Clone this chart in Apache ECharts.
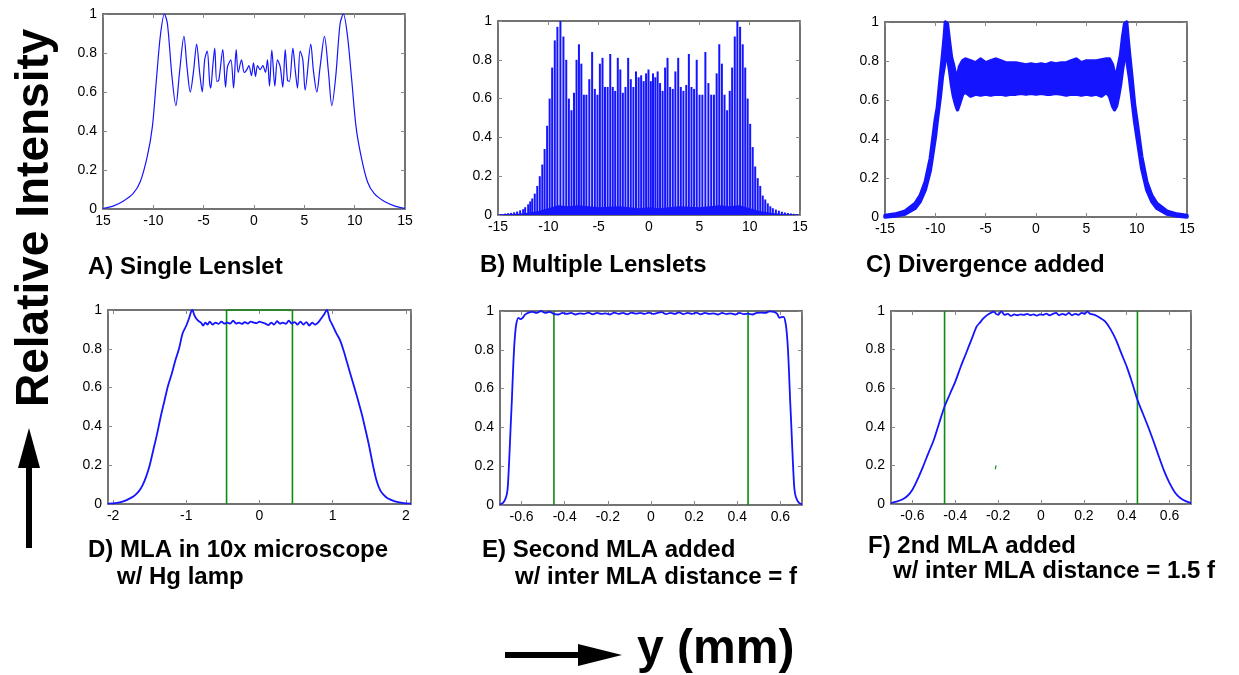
<!DOCTYPE html>
<html>
<head>
<meta charset="utf-8">
<script src="https://cdn.jsdelivr.net/npm/echarts@6/dist/echarts.min.js"></script>
<style>
  html, body { margin: 0; padding: 0; background: #fff; }
  #chart { width: 1239px; height: 675px; }
</style>
</head>
<body>
<div id="chart"></div>
<script>
// A) single lenslet: [y (mm), relative intensity]
const singleLenslet = [
  [-15, 0.003], [-14, 0.015], [-13, 0.04], [-12, 0.08], [-11.3, 0.14], [-10.6, 0.27], [-10.1, 0.42],
  [-9.7, 0.66], [-9.3, 0.89], [-8.9, 1.0], [-8.6, 0.95], [-8.15, 0.68], [-7.76, 0.53], [-7.4, 0.70],
  [-6.96, 0.885], [-6.66, 0.73], [-6.33, 0.60], [-6.0, 0.71], [-5.7, 0.846], [-5.4, 0.70], [-5.14, 0.60],
  [-4.9, 0.765], [-4.65, 0.81], [-4.4, 0.645], [-4.3, 0.62], [-4.1, 0.73], [-3.9, 0.825], [-3.7, 0.655],
  [-3.5, 0.66], [-3.1, 0.817], [-2.83, 0.625], [-2.63, 0.73], [-2.3, 0.765], [-2.03, 0.62], [-1.77, 0.817],
  [-1.57, 0.70], [-1.24, 0.765], [-0.97, 0.70], [-0.71, 0.715], [-0.51, 0.735], [-0.25, 0.684], [-0.05, 0.75],
  [0.15, 0.68], [0.35, 0.735], [0.61, 0.715], [0.88, 0.735], [1.14, 0.70], [1.34, 0.765], [1.54, 0.63],
  [1.77, 0.815], [2.07, 0.63], [2.33, 0.765], [2.6, 0.73], [2.86, 0.625], [3.1, 0.817], [3.33, 0.66],
  [3.52, 0.655], [3.86, 0.825], [4.09, 0.715], [4.32, 0.62], [4.58, 0.81], [4.85, 0.765], [5.08, 0.61],
  [5.64, 0.846], [5.9, 0.71], [6.24, 0.60], [6.57, 0.73], [7.0, 0.885], [7.4, 0.70], [7.73, 0.53],
  [8.12, 0.68], [8.55, 0.95], [8.88, 1.0], [9.28, 0.89], [9.71, 0.66], [10.14, 0.42], [10.64, 0.27],
  [11.27, 0.14], [11.93, 0.08], [12.92, 0.04], [14, 0.015], [15, 0.003]
];

// B) multiple lenslets: spike positions and heights
const multiSpikes = [
  [-14.7, 0.005], [-14.3, 0.007], [-14.0, 0.009], [-13.7, 0.011], [-13.4, 0.014], [-13.1, 0.018],
  [-12.8, 0.024], [-12.5, 0.03], [-12.3, 0.04], [-12.0, 0.055], [-11.8, 0.07], [-11.6, 0.085],
  [-11.35, 0.11], [-11.1, 0.15], [-10.85, 0.2], [-10.6, 0.26], [-10.37, 0.34], [-10.12, 0.46],
  [-9.87, 0.6], [-9.62, 0.76], [-9.36, 0.9], [-9.1, 0.97], [-8.8, 1.0], [-8.5, 0.92], [-8.22, 0.8],
  [-7.96, 0.6], [-7.7, 0.54], [-7.45, 0.63], [-7.2, 0.8], [-6.96, 0.88], [-6.72, 0.78], [-6.47, 0.62],
  [-6.22, 0.62], [-5.93, 0.7], [-5.65, 0.84], [-5.38, 0.65], [-5.12, 0.62], [-4.88, 0.78], [-4.62, 0.81],
  [-4.37, 0.66], [-4.11, 0.66], [-3.85, 0.83], [-3.6, 0.66], [-3.36, 0.64], [-3.1, 0.81], [-2.85, 0.75],
  [-2.6, 0.63], [-2.34, 0.66], [-2.07, 0.81], [-1.81, 0.70], [-1.55, 0.66], [-1.29, 0.74], [-1.03, 0.71],
  [-0.78, 0.72], [-0.53, 0.69], [-0.29, 0.73], [-0.05, 0.75], [0.18, 0.69], [0.4, 0.73], [0.63, 0.71],
  [0.86, 0.74], [1.1, 0.68], [1.35, 0.64], [1.6, 0.76], [1.84, 0.81], [2.1, 0.66], [2.36, 0.65],
  [2.62, 0.74], [2.9, 0.81], [3.16, 0.66], [3.42, 0.64], [3.7, 0.67], [3.96, 0.83], [4.22, 0.66],
  [4.48, 0.65], [4.74, 0.80], [5.02, 0.62], [5.3, 0.62], [5.6, 0.84], [5.9, 0.68], [6.18, 0.62],
  [6.45, 0.62], [6.72, 0.73], [6.98, 0.88], [7.24, 0.78], [7.5, 0.62], [7.76, 0.54], [8.02, 0.64],
  [8.26, 0.76], [8.52, 0.92], [8.78, 1.0], [9.05, 0.97], [9.31, 0.88], [9.56, 0.76], [9.8, 0.6],
  [10.05, 0.47], [10.3, 0.35], [10.55, 0.25], [10.8, 0.19], [11.05, 0.15], [11.3, 0.10], [11.55, 0.08],
  [11.8, 0.06], [12.05, 0.045], [12.3, 0.035], [12.6, 0.028], [12.9, 0.022], [13.2, 0.017], [13.5, 0.013],
  [13.8, 0.01], [14.1, 0.008], [14.4, 0.006], [14.7, 0.005]
];
// B) dense band near the baseline
const multiFloor = [
  [-15, 0.002], [-13, 0.006], [-12, 0.012], [-11, 0.02], [-10, 0.035], [-9, 0.05], [-8, 0.045],
  [-7, 0.05], [-5, 0.04], [-3, 0.045], [-1, 0.035], [0, 0.04], [1, 0.035], [3, 0.045], [5, 0.04],
  [7, 0.05], [8, 0.045], [9, 0.05], [10, 0.035], [11, 0.02], [12, 0.012], [13, 0.006], [15, 0.002]
];

// C) divergence added: band of fast oscillation, upper and lower envelopes
const divX = [-15, -14, -13, -12, -11.5, -11, -10.5, -10, -9.8, -9.5, -9.3, -9.1, -9.0, -8.8, -8.6, -8.4,
  -8.2, -8.0, -7.8, -7.6, -7.3, -7.0, -6.5, -6.0, -5.5, -5.0, -4.5, -4.0, -3.5, -3.0, -2.5, -2.0, -1.5,
  -1.0, -0.5, 0, 0.5, 1.0, 1.5, 2.0, 2.5, 3.0, 3.5, 4.0, 4.5, 5.0, 5.5, 6.0, 6.5, 7.0, 7.3, 7.6, 7.8,
  8.0, 8.2, 8.4, 8.6, 8.8, 9.0, 9.1, 9.3, 9.5, 9.8, 10.0, 10.5, 11, 11.5, 12, 13, 14, 15];
const divUpper = [0.008, 0.015, 0.03, 0.07, 0.11, 0.18, 0.30, 0.50, 0.56, 0.72, 0.82, 0.93, 1.0, 0.99, 0.90, 0.82,
  0.78, 0.73, 0.72, 0.77, 0.80, 0.81, 0.80, 0.79, 0.81, 0.79, 0.80, 0.81, 0.80, 0.79, 0.79, 0.79, 0.785,
  0.78, 0.785, 0.78, 0.785, 0.78, 0.79, 0.785, 0.79, 0.79, 0.80, 0.81, 0.79, 0.80, 0.80, 0.80, 0.805, 0.81, 0.81, 0.78, 0.73,
  0.73, 0.78, 0.83, 0.92, 0.99, 1.0, 0.94, 0.83, 0.73, 0.57, 0.50, 0.31, 0.18, 0.11, 0.07, 0.03, 0.015, 0.008];
const divLower = [0.0, 0.005, 0.015, 0.045, 0.08, 0.14, 0.24, 0.41, 0.50, 0.62, 0.72, 0.78, 0.85, 0.82, 0.76, 0.68,
  0.62, 0.58, 0.55, 0.58, 0.63, 0.64, 0.62, 0.63, 0.625, 0.63, 0.625, 0.63, 0.63, 0.625, 0.63, 0.63, 0.635,
  0.63, 0.635, 0.63, 0.635, 0.63, 0.63, 0.635, 0.63, 0.625, 0.63, 0.63, 0.625, 0.63, 0.625, 0.63, 0.62, 0.64, 0.62, 0.57, 0.55,
  0.57, 0.62, 0.68, 0.76, 0.82, 0.86, 0.78, 0.71, 0.62, 0.49, 0.42, 0.25, 0.14, 0.08, 0.045, 0.015, 0.005, 0.0];

// D) MLA in 10x microscope
const microscope = [
  [-2.07, 0.002], [-1.95, 0.006], [-1.85, 0.015], [-1.75, 0.033], [-1.7, 0.046], [-1.65, 0.065], [-1.6, 0.095],
  [-1.55, 0.14], [-1.5, 0.2], [-1.45, 0.28], [-1.4, 0.36], [-1.35, 0.45], [-1.3, 0.53], [-1.25, 0.61],
  [-1.2, 0.67], [-1.15, 0.74], [-1.1, 0.8], [-1.05, 0.88], [-1.0, 0.92], [-0.96, 0.96], [-0.92, 1.0],
  [-0.88, 0.965], [-0.84, 0.945], [-0.8, 0.935], [-0.77, 0.92], [-0.74, 0.935], [-0.71, 0.925], [-0.68, 0.94],
  [-0.64, 0.925], [-0.6, 0.935], [-0.56, 0.928], [-0.52, 0.94], [-0.48, 0.93], [-0.44, 0.935], [-0.4, 0.93],
  [-0.36, 0.945], [-0.32, 0.93], [-0.28, 0.935], [-0.24, 0.928], [-0.2, 0.938], [-0.16, 0.93], [-0.12, 0.94],
  [-0.08, 0.935], [-0.04, 0.932], [0, 0.94], [0.04, 0.935], [0.08, 0.93], [0.12, 0.922], [0.16, 0.935],
  [0.2, 0.925], [0.24, 0.942], [0.28, 0.93], [0.32, 0.935], [0.36, 0.928], [0.4, 0.945], [0.44, 0.93],
  [0.48, 0.938], [0.52, 0.925], [0.56, 0.94], [0.6, 0.925], [0.64, 0.938], [0.68, 0.92], [0.72, 0.935],
  [0.76, 0.925], [0.8, 0.935], [0.84, 0.955], [0.88, 0.975], [0.92, 1.0], [0.96, 0.95], [1.0, 0.92],
  [1.05, 0.88], [1.1, 0.845], [1.15, 0.79], [1.2, 0.725], [1.25, 0.66], [1.3, 0.596], [1.35, 0.53],
  [1.4, 0.46], [1.45, 0.38], [1.5, 0.295], [1.55, 0.2], [1.6, 0.12], [1.65, 0.07], [1.7, 0.046],
  [1.75, 0.03], [1.85, 0.014], [1.95, 0.006], [2.07, 0.002]
];

// E) second MLA at distance f
const secondF = [
  [-0.7, 0.003], [-0.685, 0.012], [-0.672, 0.04], [-0.665, 0.08], [-0.66, 0.17], [-0.655, 0.29], [-0.65, 0.42],
  [-0.645, 0.54], [-0.64, 0.68], [-0.635, 0.8], [-0.63, 0.88], [-0.625, 0.93], [-0.615, 0.965], [-0.605, 0.958],
  [-0.595, 0.965], [-0.585, 0.98], [-0.57, 0.99], [-0.55, 0.995], [-0.53, 0.99], [-0.51, 1.0], [-0.49, 0.99],
  [-0.47, 0.995], [-0.45, 0.985], [-0.43, 0.982], [-0.41, 0.99], [-0.39, 0.985], [-0.37, 0.99], [-0.35, 0.982],
  [-0.33, 0.988], [-0.31, 0.985], [-0.29, 0.992], [-0.27, 0.983], [-0.25, 0.99], [-0.23, 0.985], [-0.21, 0.988],
  [-0.19, 0.982], [-0.17, 0.992], [-0.15, 0.985], [-0.13, 0.99], [-0.11, 0.983], [-0.09, 0.992], [-0.07, 0.986],
  [-0.05, 0.99], [-0.03, 0.985], [-0.01, 0.992], [0.01, 0.985], [0.03, 0.99], [0.05, 0.994], [0.07, 0.984],
  [0.09, 0.99], [0.11, 0.985], [0.13, 0.993], [0.15, 0.984], [0.17, 0.99], [0.19, 0.985], [0.21, 0.992],
  [0.23, 0.983], [0.25, 0.99], [0.27, 0.985], [0.29, 0.988], [0.31, 0.982], [0.33, 0.99], [0.35, 0.984],
  [0.37, 0.988], [0.39, 0.982], [0.41, 0.99], [0.43, 0.984], [0.45, 0.986], [0.47, 0.982], [0.49, 0.99],
  [0.51, 0.992], [0.53, 0.99], [0.55, 0.998], [0.57, 0.995], [0.585, 0.985], [0.595, 0.965], [0.605, 0.968],
  [0.615, 0.97], [0.625, 0.93], [0.63, 0.88], [0.635, 0.8], [0.64, 0.68], [0.645, 0.54], [0.65, 0.42],
  [0.655, 0.29], [0.66, 0.17], [0.665, 0.08], [0.672, 0.04], [0.685, 0.012], [0.7, 0.003]
];

// F) second MLA at distance 1.5 f
const secondF15 = [
  [-0.7, 0.005], [-0.675, 0.012], [-0.65, 0.022], [-0.625, 0.04], [-0.6, 0.074], [-0.575, 0.13], [-0.55, 0.195],
  [-0.525, 0.265], [-0.5, 0.333], [-0.475, 0.42], [-0.45, 0.505], [-0.425, 0.57], [-0.4, 0.634], [-0.375, 0.71],
  [-0.35, 0.78], [-0.325, 0.85], [-0.3, 0.92], [-0.285, 0.94], [-0.27, 0.96], [-0.25, 0.98], [-0.235, 0.99],
  [-0.22, 0.997], [-0.21, 0.985], [-0.2, 0.98], [-0.185, 0.998], [-0.17, 0.98], [-0.155, 0.985], [-0.14, 0.975],
  [-0.125, 0.982], [-0.11, 0.978], [-0.095, 0.983], [-0.08, 0.98], [-0.065, 0.985], [-0.05, 0.978], [-0.035, 0.983],
  [-0.02, 0.976], [-0.005, 0.983], [0.01, 0.98], [0.025, 0.986], [0.04, 0.978], [0.055, 0.985], [0.07, 0.99],
  [0.085, 0.978], [0.1, 0.985], [0.115, 0.98], [0.13, 0.99], [0.145, 0.978], [0.16, 0.985], [0.175, 0.98],
  [0.19, 0.99], [0.205, 0.985], [0.215, 0.998], [0.23, 0.985], [0.25, 0.98], [0.275, 0.965], [0.3, 0.945],
  [0.325, 0.905], [0.35, 0.85], [0.375, 0.78], [0.4, 0.712], [0.425, 0.63], [0.45, 0.54], [0.475, 0.47],
  [0.5, 0.40], [0.525, 0.325], [0.55, 0.246], [0.575, 0.17], [0.6, 0.108], [0.625, 0.06], [0.65, 0.031],
  [0.675, 0.015], [0.7, 0.005]
];

// green aperture markers
const apertureD = [[-0.45, 0], [-0.45, 1], [0.45, 1], [0.45, 0]];
const apertureEF = [-0.45, 0.45];
const strayMarkF = [[-0.213, 0.18], [-0.21, 0.2]];

const captions = [
  ['A) Single Lenslet', 88, 268],
  ['B) Multiple Lenslets', 480, 266],
  ['C) Divergence added', 866, 266],
  ['D) MLA in 10x microscope', 88, 551],
  ['w/ Hg lamp', 117, 578],
  ['E) Second MLA added', 482, 551],
  ['w/ inter MLA distance = f', 515, 578],
  ['F) 2nd MLA added', 868, 547],
  ['w/ inter MLA distance = 1.5 f', 893, 572]
];

const blue = '#1414ff';
const green = '#108a10';
const font = 'Liberation Sans, Arial, sans-serif';

const grids = [
  { left: 103, top: 14, width: 302, height: 195 },
  { left: 498, top: 21, width: 302, height: 194 },
  { left: 885, top: 22, width: 302, height: 195 },
  { left: 108, top: 310, width: 303, height: 194 },
  { left: 500, top: 311, width: 302, height: 194 },
  { left: 891, top: 311, width: 300, height: 193 }
];

const frame = { show: true, onZero: false, lineStyle: { color: '#444', width: 1.5 } };
const innerTick = { show: true, inside: true, length: 4, lineStyle: { color: '#888' } };

function xPair(g, min, max, scale, formatter) {
  const base = { type: 'value', gridIndex: g, min: min, max: max, axisLine: frame, axisTick: innerTick,
    splitLine: { show: false } };
  Object.assign(base, scale);
  return [
    Object.assign({}, base, { position: 'bottom',
      axisLabel: { color: '#000', fontSize: 14, fontFamily: font, margin: 5, formatter: formatter } }),
    Object.assign({}, base, { position: 'top', axisLabel: { show: false } })
  ];
}
function yPair(g) {
  const base = { type: 'value', gridIndex: g, min: 0, max: 1, interval: 0.2, axisLine: frame,
    axisTick: innerTick, splitLine: { show: false } };
  return [
    Object.assign({}, base, { position: 'left',
      axisLabel: { color: '#000', fontSize: 14, fontFamily: font, margin: 6 } }),
    Object.assign({}, base, { position: 'right', axisLabel: { show: false } })
  ];
}

const every = (step) => (v) => Math.abs(v / step - Math.round(v / step)) < 1e-6 ? String(+v.toFixed(2)) : '';

const xAxis = [].concat(
  xPair(0, -15, 15, { interval: 5 }, (v) => (v === -15 ? '15' : String(v))),
  xPair(1, -15, 15, { interval: 5 }),
  xPair(2, -15, 15, { interval: 5 }),
  xPair(3, -2.07, 2.07, { splitNumber: 4 }, every(1)),
  xPair(4, -0.7, 0.7, { splitNumber: 7 }, every(0.2)),
  xPair(5, -0.7, 0.7, { splitNumber: 7 }, every(0.2))
);
const yAxis = [].concat(yPair(0), yPair(1), yPair(2), yPair(3), yPair(4), yPair(5));

function curve(g, data, width, color, smooth) {
  return { type: 'line', xAxisIndex: 2 * g, yAxisIndex: 2 * g, data: data, symbol: 'none',
    smooth: smooth || 0, lineStyle: { color: color || blue, width: width }, z: 3 };
}
function vline(g, x) {
  return curve(g, [[x, 0], [x, 1]], 1.6, green);
}

const series = [
  curve(0, singleLenslet, 1.2, blue, 0.3),
  { type: 'bar', xAxisIndex: 2, yAxisIndex: 2, data: multiSpikes, barWidth: 2,
    itemStyle: { color: blue } },
  { type: 'line', xAxisIndex: 2, yAxisIndex: 2, data: multiFloor, symbol: 'none',
    lineStyle: { width: 0 }, areaStyle: { color: blue, opacity: 1 } },
  { type: 'custom', xAxisIndex: 4, yAxisIndex: 4, data: [[0, 0.7]],
    renderItem: function (params, api) {
      const top = divX.map((x, i) => api.coord([x, divUpper[i]]));
      const bottom = divX.map((x, i) => api.coord([x, divLower[i]])).reverse();
      return { type: 'polygon', shape: { points: top.concat(bottom) },
        style: { fill: blue, stroke: blue, lineWidth: 3.5, lineJoin: 'round' } };
    } },
  curve(3, apertureD, 1.6, green),
  curve(3, microscope, 1.8, blue, 0.3),
  vline(4, apertureEF[0]), vline(4, apertureEF[1]),
  curve(4, secondF, 1.8, blue, 0.3),
  vline(5, apertureEF[0]), vline(5, apertureEF[1]),
  curve(5, strayMarkF, 1.2, green),
  curve(5, secondF15, 1.8, blue, 0.3)
];

const graphic = captions.map((c) => ({
  type: 'text', left: c[1], top: c[2] - 13,
  style: { text: c[0], fill: '#000', font: 'bold 24px ' + font }
}));
graphic.push(
  { type: 'text', x: 12, y: 407, rotation: Math.PI / 2,
    style: { text: 'Relative Intensity', fill: '#000', font: 'bold 46px ' + font, textVerticalAlign: 'top' } },
  { type: 'rect', shape: { x: 26, y: 462, width: 6, height: 86 }, style: { fill: '#000' } },
  { type: 'polygon', shape: { points: [[18, 468], [29, 428], [40, 468]] }, style: { fill: '#000' } },
  { type: 'rect', shape: { x: 505, y: 652, width: 80, height: 6 }, style: { fill: '#000' } },
  { type: 'polygon', shape: { points: [[578, 644], [622, 655], [578, 666]] }, style: { fill: '#000' } },
  { type: 'text', left: 637, top: 626,
    style: { text: 'y (mm)', fill: '#000', font: 'bold 48px ' + font } }
);

const chart = echarts.init(document.getElementById('chart'));
chart.setOption({
  animation: false,
  backgroundColor: '#fff',
  grid: grids,
  xAxis: xAxis,
  yAxis: yAxis,
  series: series,
  graphic: graphic
});
</script>
</body>
</html>
